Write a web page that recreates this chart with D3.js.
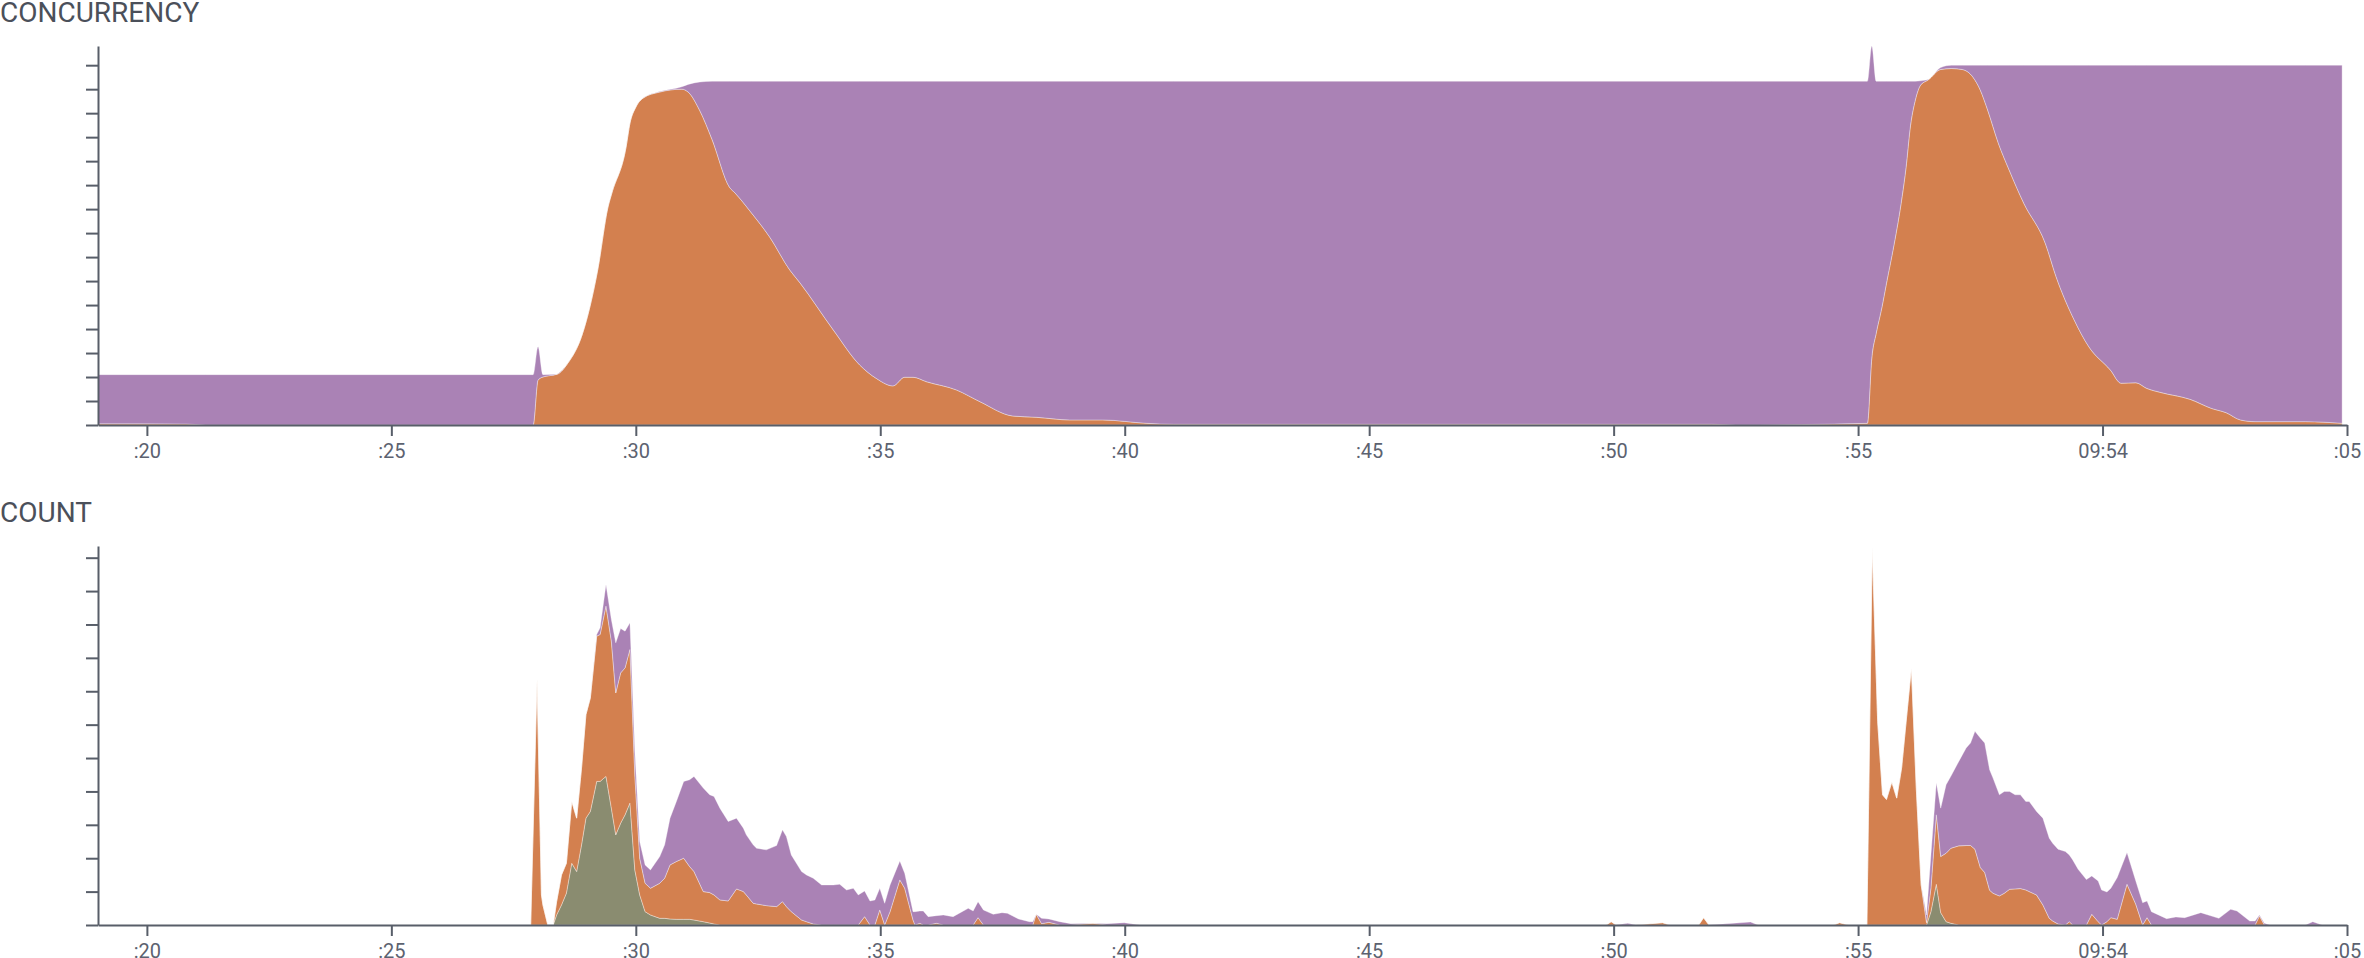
<!DOCTYPE html>
<html>
<head>
<meta charset="utf-8">
<script src="https://cdn.jsdelivr.net/npm/d3@7"></script>
<style>
  body { margin: 0; background: #fff; }
  svg { display: block; font-family: Roboto, "Noto Sans", sans-serif; }
  .title { font-size: 28px; fill: #4b505a; }
  .axis path, .axis line { stroke: #585e69; stroke-width: 2; }
  .axis text { font-size: 20px; fill: #5c6270; font-family: Roboto, sans-serif; }
</style>
</head>
<body>
<svg id="chart" width="2364" height="958"></svg>
<script>
// seconds after 09:53:00
const concTimes = [19.0, 20.8, 21.2, 27.9, 28.0, 28.1, 28.39, 28.61, 28.9, 29.06, 29.22, 29.43, 29.51, 29.8, 29.88, 30.0,
    30.15, 30.49, 30.94, 31.07, 31.31, 31.56, 31.92, 32.03, 32.37, 32.74, 33.15, 33.36, 34.04, 34.58, 34.92, 35.26,
    35.5, 35.67, 35.95, 36.56, 37.04, 37.71, 38.2, 38.88, 39.55, 40.45, 41.0, 52.0, 52.5, 55.19, 55.28, 55.37,
    55.49, 55.58, 55.74, 55.88, 55.99, 56.06, 56.17, 56.28, 56.43, 56.69, 56.91, 57.13, 57.35, 57.5, 57.65, 57.87,
    58.09, 58.39, 58.83, 59.05, 59.42, 59.72, 60.16, 60.38, 60.68, 60.9, 61.2, 61.79, 62.23, 62.53, 62.82, 63.12,
    64.15, 64.9];
const concOrange = [0.05, 0.04, 0, 0, 1.87, 2.0, 2.12, 2.58, 3.75, 4.92, 6.46, 9.08, 9.67, 11.58, 12.58, 13.25,
    13.63, 13.88, 14.0, 13.88, 13.1, 11.9, 9.9, 9.67, 8.83, 7.83, 6.46, 5.92, 3.96, 2.5, 1.94, 1.63,
    1.99, 1.99, 1.8, 1.46, 0.97, 0.375, 0.32, 0.21, 0.21, 0.07, 0.03, 0.03, 0, 0.07, 2.78, 3.82,
    4.93, 5.9, 7.57, 9.24, 10.9, 12.29, 13.54, 14.17, 14.38, 14.82, 14.86, 14.82, 14.5, 13.96, 13.13, 11.74,
    10.63, 9.24, 7.57, 6.18, 4.38, 3.26, 2.29, 1.74, 1.76, 1.53, 1.35, 1.07, 0.69, 0.51, 0.21, 0.14,
    0.14, 0.07];
const concPurple = [2.05, 2.06, 2.1, 2.1, 1.39, 0.1, 0, 0, 0, 0, 0, 0, 0, 0, 0, 0,
    0, 0.02, 0.1, 0.32, 1.2, 2.43, 4.43, 4.66, 5.5, 6.5, 7.87, 8.41, 10.37, 11.83, 12.39, 12.7,
    12.34, 12.34, 12.53, 12.87, 13.36, 13.955, 14.01, 14.12, 14.12, 14.26, 14.3, 14.3, 14.33, 14.26, 13.02, 10.51,
    9.4, 8.43, 6.76, 5.09, 3.43, 2.04, 0.79, 0.18, 0.02, 0.08, 0.14, 0.18, 0.5, 1.04, 1.87, 3.26,
    4.37, 5.76, 7.43, 8.82, 10.62, 11.74, 12.71, 13.26, 13.24, 13.47, 13.65, 13.93, 14.31, 14.49, 14.79, 14.86,
    14.86, 14.93];

const countTimes = [19.0, 27.85, 27.98, 28.07, 28.1, 28.2, 28.31, 28.38, 28.48, 28.58, 28.69, 28.79, 28.89, 28.98, 29.07, 29.2,
    29.27, 29.39, 29.5, 29.59, 29.69, 29.78, 29.88, 29.98, 30.08, 30.19, 30.3, 30.49, 30.59, 30.7, 30.83, 30.98,
    31.1, 31.19, 31.38, 31.51, 31.6, 31.72, 31.89, 32.06, 32.2, 32.26, 32.4, 32.47, 32.67, 32.88, 33.0, 33.08,
    33.18, 33.39, 33.49, 33.63, 33.8, 34.04, 34.17, 34.31, 34.45, 34.55, 34.68, 34.79, 34.89, 34.99, 35.09, 35.2,
    35.4, 35.5, 35.67, 35.71, 35.81, 35.88, 35.98, 36.15, 36.29, 36.49, 36.8, 36.9, 37.0, 37.11, 37.31, 37.49,
    37.6, 37.83, 38.05, 38.12, 38.19, 38.3, 38.45, 38.67, 38.9, 39.35, 39.63, 39.99, 40.31, 49.85, 49.95, 50.05,
    50.29, 50.45, 51.0, 51.15, 51.74, 51.84, 51.95, 52.8, 52.95, 54.5, 54.62, 54.8, 55.18, 55.29, 55.4, 55.5,
    55.58, 55.69, 55.79, 55.89, 56.09, 56.19, 56.29, 56.4, 56.49, 56.6, 56.69, 56.8, 56.9, 57.06, 57.21, 57.3,
    57.39, 57.5, 57.59, 57.69, 57.76, 57.89, 57.99, 58.1, 58.21, 58.32, 58.43, 58.5, 58.65, 58.78, 58.91, 58.98,
    59.09, 59.24, 59.32, 59.39, 59.5, 59.67, 59.78, 59.91, 59.98, 60.09, 60.17, 60.3, 60.5, 60.68, 60.82, 60.91,
    61.0, 61.31, 61.5, 61.68, 62.01, 62.38, 62.62, 62.75, 63.01, 63.12, 63.21, 63.31, 63.42, 64.15, 64.3, 64.49,
    64.9];
const countGreen = [0, 0, 0, 0, 0, 0, 0, 0.3, 0.6, 0.95, 1.85, 1.6, 2.4, 3.2, 3.4, 4.3,
    4.3, 4.45, 3.5, 2.7, 3.05, 3.3, 3.65, 1.65, 0.9, 0.4, 0.3, 0.2, 0.2, 0.18, 0.17, 0.17,
    0.17, 0.15, 0.1, 0.06, 0.03, 0, 0, 0, 0, 0, 0, 0, 0, 0, 0, 0,
    0, 0, 0, 0, 0, 0, 0, 0, 0, 0, 0, 0, 0, 0, 0, 0,
    0, 0, 0, 0, 0, 0, 0, 0, 0, 0, 0, 0, 0, 0, 0, 0,
    0, 0, 0, 0, 0, 0, 0, 0, 0, 0, 0, 0, 0, 0, 0, 0,
    0, 0, 0, 0, 0, 0, 0, 0, 0, 0, 0, 0, 0, 0, 0, 0,
    0, 0, 0, 0, 0, 0, 0, 0, 0.4, 1.22, 0.37, 0.1, 0.05, 0, 0, 0,
    0, 0, 0, 0, 0, 0, 0, 0, 0, 0, 0, 0, 0, 0, 0, 0,
    0, 0, 0, 0, 0, 0, 0, 0, 0, 0, 0, 0, 0, 0, 0, 0,
    0, 0, 0, 0, 0, 0, 0, 0, 0, 0, 0, 0, 0, 0, 0, 0,
    0];
const countOrange = [0, 0, 7.35, 0.9, 0.6, 0, 0, 0.4, 0.9, 0.9, 1.85, 1.6, 2.3, 3.1, 3.4, 4.35,
    4.4, 5.1, 5.0, 4.25, 4.5, 4.4, 4.6, 2.85, 1.1, 0.85, 0.8, 1.05, 1.2, 1.62, 1.73, 1.83,
    1.58, 1.45, 0.9, 0.91, 0.87, 0.75, 0.72, 1.08, 1.0, 0.9, 0.65, 0.63, 0.58, 0.55, 0.7, 0.55,
    0.4, 0.15, 0.1, 0.03, 0, 0, 0, 0, 0, 0, 0.25, 0, 0, 0.45, 0, 0.4,
    1.35, 1.1, 0.15, 0, 0.05, 0, 0, 0.05, 0, 0, 0, 0, 0.22, 0, 0, 0,
    0, 0, 0, 0, 0.32, 0.04, 0.08, 0, 0, 0.05, 0, 0, 0, 0, 0.1, 0,
    0, 0, 0.07, 0, 0, 0.22, 0, 0, 0, 0, 0.07, 0, 0, 11.3, 6.1, 3.9,
    3.76, 4.28, 3.8, 4.7, 7.7, 4.1, 1.2, 0.07, 0.7, 2.08, 1.68, 2.05, 2.25, 2.37, 2.38, 2.38,
    2.27, 1.72, 1.57, 1.04, 0.95, 0.87, 0.95, 1.07, 1.08, 1.09, 1.05, 1.0, 0.9, 0.6, 0.2, 0.12,
    0.03, 0, 0.1, 0, 0, 0, 0.32, 0.1, 0, 0.1, 0.22, 0.17, 1.22, 0.62, 0, 0.22,
    0, 0, 0, 0, 0, 0, 0, 0, 0, 0, 0.27, 0, 0, 0, 0, 0,
    0];
const countPurple = [0, 0, 0, 0, 0, 0, 0, 0, 0, 0, 0, 0, 0, 0, 0, 0.05,
    0.2, 0.65, 0.65, 1.5, 1.33, 1.1, 0.8, 0.7, 0.5, 0.55, 0.55, 0.8, 1.0, 1.4, 1.8, 2.3,
    2.6, 2.85, 3.1, 2.93, 2.95, 2.75, 2.38, 2.12, 1.9, 1.8, 1.75, 1.67, 1.67, 1.83, 2.15, 2.1,
    1.7, 1.45, 1.4, 1.37, 1.2, 1.2, 1.22, 1.05, 1.1, 0.9, 0.77, 0.72, 0.75, 0.65, 0.65, 0.8,
    0.57, 0.45, 0.25, 0.4, 0.37, 0.42, 0.25, 0.23, 0.3, 0.25, 0.5, 0.42, 0.48, 0.45, 0.32, 0.37,
    0.35, 0.18, 0.1, 0.1, 0, 0.16, 0.1, 0.1, 0.04, 0, 0.04, 0.07, 0, 0, 0, 0,
    0.05, 0, 0, 0, 0, 0, 0, 0.09, 0, 0, 0, 0, 0, 0, 0, 0,
    0, 0, 0, 0, 0, 0, 0, 0.23, 1.0, 0.96, 1.45, 2.05, 2.16, 2.53, 2.92, 3.07,
    3.53, 3.88, 3.88, 3.61, 3.45, 3.03, 3.05, 2.93, 2.82, 2.81, 2.65, 2.7, 2.5, 2.6, 2.4, 2.33,
    2.24, 2.2, 2.0, 1.95, 1.67, 1.36, 1.15, 1.22, 1.05, 0.89, 0.88, 1.25, 0.95, 0.7, 0.67, 0.5,
    0.4, 0.19, 0.24, 0.22, 0.37, 0.2, 0.47, 0.42, 0.12, 0.12, 0.03, 0.05, 0, 0, 0.1, 0,
    0];

const colors = {green: "#8a8c70", orange: "#d3804f", purple: "#aa82b5"};

const svg = d3.select("#chart");
const base = new Date(2024, 0, 1, 9, 53, 0);
const toDate = s => new Date(base.getTime() + s * 1000);

const x = d3.scaleTime()
    .domain([toDate(19), toDate(65)])
    .range([98, 2347]);

function drawPanel(title, top, times, series, keys, yMax, curve) {
    let rows = times.map(function (t, i) {
        let r = {date: toDate(t)};
        keys.forEach(k => r[k] = series[k][i]);
        return r;
    });

    let y = d3.scaleLinear().domain([0, yMax]).range([top + 379, top]);
    let stacked = d3.stack().keys(keys)(rows);

    let area = d3.area()
        .x(d => x(d.data.date))
        .y0(d => y(d[0]))
        .y1(d => y(d[1]))
        .curve(curve);

    svg.append("text")
        .attr("class", "title")
        .attr("x", 0)
        .attr("y", top - 24)
        .text(title);

    svg.append("g")
        .selectAll("path")
        .data(stacked)
        .join("path")
        .attr("d", area)
        .attr("fill", d => colors[d.key])
        .attr("stroke", "#fff")
        .attr("stroke-opacity", 0.35)
        .attr("stroke-width", 1);

    svg.append("g")
        .attr("class", "axis")
        .attr("transform", "translate(98,0)")
        .call(d3.axisLeft(y)
            .tickValues(d3.range(0, Math.floor(yMax) + 1))
            .tickFormat("")
            .tickSize(12)
            .tickSizeOuter(0));

    svg.append("g")
        .attr("class", "axis")
        .attr("transform", "translate(0," + (top + 379) + ")")
        .call(d3.axisBottom(x)
            .ticks(d3.timeSecond.every(5))
            .tickSize(11)
            .tickPadding(8)
            .tickSizeOuter(0));
}

drawPanel("CONCURRENCY", 46, concTimes,
    {orange: concOrange, purple: concPurple}, ["orange", "purple"], 15.8, d3.curveMonotoneX);

drawPanel("COUNT", 546, countTimes,
    {green: countGreen, orange: countOrange, purple: countPurple}, ["green", "orange", "purple"], 11.35, d3.curveLinear);
</script>
</body>
</html>
